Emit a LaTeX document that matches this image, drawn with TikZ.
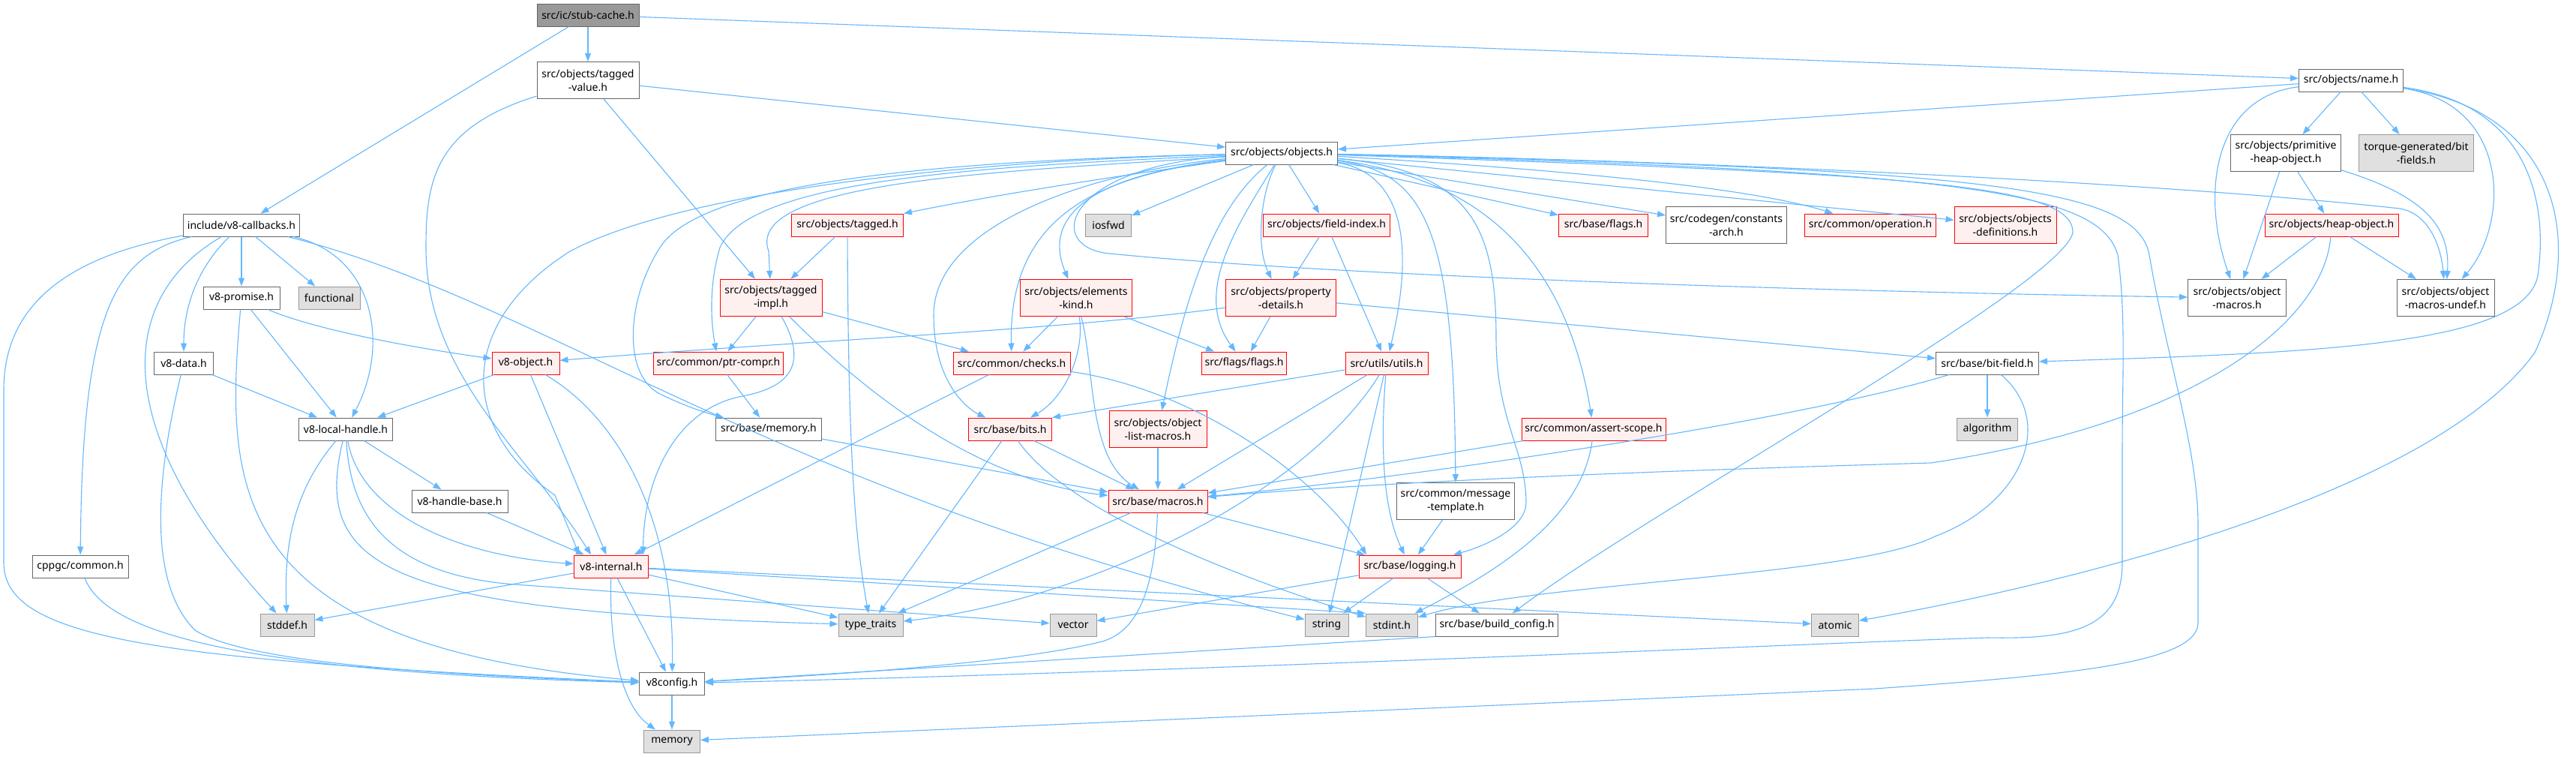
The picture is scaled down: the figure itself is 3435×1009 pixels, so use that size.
\documentclass[tikz,border=0pt]{standalone}
\usepackage{fontspec}
\setmainfont{Noto Sans}
\usetikzlibrary{arrows.meta}
\definecolor{edgeblue}{HTML}{63B8FF}
\definecolor{boxline}{HTML}{666666}
\definecolor{redfill}{HTML}{FFF0F0}
\definecolor{sysfill}{HTML}{E0E0E0}
\definecolor{sysline}{HTML}{999999}
\definecolor{rootfill}{HTML}{999999}

\begin{document}
\begin{tikzpicture}[x=1pt,y=-1pt,font=\fontsize{14}{18}\selectfont,
  box/.style={draw=boxline,fill=white,line width=1pt,minimum height=30pt,inner xsep=2pt,inner ysep=2pt,align=center},
  tall/.style={minimum height=49pt},
  redbox/.style={box,draw=red,fill=redfill},
  sysbox/.style={box,draw=sysline,fill=sysfill},
  rootbox/.style={box,fill=rootfill},
  dep/.style={draw=edgeblue,line width=1.1pt,-{Triangle[length=11pt,width=8pt]}}]
  \useasboundingbox (0,0) rectangle (3435,1009);
  \fill[white] (0,0) rectangle (3435,1009);
  \node[rootbox,minimum width=136pt] (stub) at (784,20) {src/ic/stub-cache.h};
  \node[box,tall,minimum width=136pt] (tval) at (784,107) {src/objects/tagged\\-value.h};
  \node[box,minimum width=155pt] (cb) at (322,300) {include/v8-callbacks.h};
  \node[redbox,minimum width=149pt] (tagged) at (1130,300) {src/objects/tagged.h};
  \node[sysbox,minimum width=61pt] (iosfwd) at (1478,300) {iosfwd};
  \node[box,minimum width=149pt] (objs) at (1709,204) {src/objects/objects.h};
  \node[redbox,minimum width=169pt] (fidx) at (1769,300) {src/objects/field-index.h};
  \node[redbox,minimum width=119pt] (bflags) at (2138,300) {src/base/flags.h};
  \node[box,tall,minimum width=161pt] (carch) at (2302,300) {src/codegen/constants\\-arch.h};
  \node[redbox,minimum width=175pt] (oper) at (2494,300) {src/common/operation.h};
  \node[redbox,tall,minimum width=136pt] (odefs) at (2674,300) {src/objects/objects\\-definitions.h};
  \node[box,minimum width=139pt] (name) at (3135,107) {src/objects/name.h};
  \node[box,tall,minimum width=147pt] (prim) at (3048,204) {src/objects/primitive\\-heap-object.h};
  \node[sysbox,tall,minimum width=153pt] (torque) at (3222,204) {torque-generated/bit\\-fields.h};
  \node[redbox,minimum width=178pt] (heap) at (3109,300) {src/objects/heap-object.h};
  \node[box,minimum width=102pt] (promise) at (322,397) {v8-promise.h};
  \node[sysbox,minimum width=82pt] (functional) at (439,397) {functional};
  \node[box,minimum width=79pt] (v8data) at (245,484) {v8-data.h};
  \node[redbox,minimum width=90pt] (v8obj) at (701,484) {v8-object.h};
  \node[box,minimum width=125pt] (local) at (461,572) {v8-local-handle.h};
  \node[box,minimum width=128pt] (hbase) at (613,668) {v8-handle-base.h};
  \node[redbox,tall,minimum width=136pt] (timpl) at (1028,397) {src/objects/tagged\\-impl.h};
  \node[redbox,tall,minimum width=149pt] (ekind) at (1435,397) {src/objects/elements\\-kind.h};
  \node[redbox,tall,minimum width=147pt] (pdet) at (1708,397) {src/objects/property\\-details.h};
  \node[redbox,minimum width=173pt] (ptrc) at (958,484) {src/common/ptr-compr.h};
  \node[redbox,minimum width=156pt] (checks) at (1349,484) {src/common/checks.h};
  \node[redbox,minimum width=113pt] (fflags) at (1659,484) {src/flags/flags.h};
  \node[box,minimum width=141pt] (bmem) at (1025,572) {src/base/memory.h};
  \node[redbox,minimum width=111pt] (bits) at (1347,572) {src/base/bits.h};
  \node[redbox,tall,minimum width=130pt] (olist) at (1544,572) {src/objects/object\\-list-macros.h};
  \node[redbox,minimum width=132pt] (macros) at (1544,668) {src/base/macros.h};
  \node[redbox,minimum width=110pt] (utils) at (1849,484) {src/utils/utils.h};
  \node[redbox,minimum width=192pt] (assert) at (2125,572) {src/common/assert-scope.h};
  \node[box,tall,minimum width=157pt] (msgt) at (1941,668) {src/common/message\\-template.h};
  \node[box,tall,minimum width=131pt] (omac) at (2983,397) {src/objects/object\\-macros.h};
  \node[box,tall,minimum width=130pt] (omacu) at (3261,397) {src/objects/object\\-macros-undef.h};
  \node[box,minimum width=137pt] (bfield) at (2650,484) {src/base/bit-field.h};
  \node[sysbox,minimum width=81pt] (algorithm) at (2650,572) {algorithm};
  \node[box,minimum width=128pt] (cppgc) at (107,755) {cppgc/common.h};
  \node[sysbox,minimum width=72pt] (stddef) at (383,833) {stddef.h};
  \node[redbox,minimum width=99pt] (v8int) at (815,755) {v8-internal.h};
  \node[box,minimum width=87pt] (v8config) at (896,911) {v8config.h};
  \node[sysbox,minimum width=75pt] (memory) at (896,988) {memory};
  \node[sysbox,minimum width=86pt] (ttraits) at (1161,833) {type\_traits};
  \node[sysbox,minimum width=62pt] (vector) at (1431,833) {vector};
  \node[redbox,minimum width=136pt] (logging) at (1880,755) {src/base/logging.h};
  \node[sysbox,minimum width=58pt] (string) at (1769,833) {string};
  \node[sysbox,minimum width=69pt] (stdint) at (1856,833) {stdint.h};
  \node[box,minimum width=163pt] (bconf) at (1996,833) {src/base/build\_config.h};
  \node[sysbox,minimum width=63pt] (atomic) at (2447,833) {atomic};
  \draw[dep] (stub) -- (cb);
  \draw[dep] (stub) -- (tval);
  \draw[dep] (stub) -- (name);
  \draw[dep] (tval) -- (objs);
  \draw[dep] (tval) -- (timpl);
  \draw[dep] (tval) .. controls (580,170) and (568,240) .. (568,330) .. controls (568,500) and (700,600) .. (v8int.150);
  \draw[dep] (name) -- (objs);
  \draw[dep] (name) -- (prim);
  \draw[dep] (name) -- (torque);
  \draw[dep] (name) .. controls (2950,130) and (2935,260) .. (omac);
  \draw[dep] (name) .. controls (3350,140) and (3345,300) .. (omacu);
  \draw[dep] (name) .. controls (3380,140) and (3395,280) .. (3385,360) .. controls (3380,460) and (3100,470) .. (bfield);
  \draw[dep] (name) .. controls (3420,150) and (3445,330) .. (3380,470) .. controls (3250,650) and (2800,770) .. (atomic);
  \draw[dep] (prim) -- (heap);
  \draw[dep] (prim) -- (omac);
  \draw[dep] (prim) .. controls (3230,260) and (3268,300) .. (omacu);
  \draw[dep] (heap) -- (omac);
  \draw[dep] (heap) -- (omacu);
  \draw[dep] (heap) .. controls (3100,420) and (2950,560) .. (2575,617) .. controls (2300,625) and (1900,638) .. (macros);
  \draw[dep] (cb) .. controls (100,340) and (5,400) .. (5,520) -- (5,750) .. controls (5,850) and (200,880) .. (v8config);
  \draw[dep] (cb) .. controls (150,340) and (110,420) .. (cppgc);
  \draw[dep] (cb) .. controls (270,350) and (245,400) .. (v8data);
  \draw[dep] (cb) .. controls (150,400) and (150,580) .. (stddef);
  \draw[dep] (cb) -- (promise);
  \draw[dep] (cb) -- (functional);
  \draw[dep] (cb) .. controls (720,400) and (1000,640) .. (string);
  \draw[dep] (cb) .. controls (500,340) and (520,460) .. (local);
  \draw[dep] (promise) -- (local);
  \draw[dep] (promise) .. controls (420,440) and (560,465) .. (v8obj);
  \draw[dep] (promise) .. controls (300,650) and (300,860) .. (v8config);
  \draw[dep] (v8data) -- (local);
  \draw[dep] (v8data) .. controls (205,650) and (200,780) .. (260,840) .. controls (330,885) and (600,900) .. (v8config);
  \draw[dep] (v8obj) -- (local);
  \draw[dep] (v8obj) -- (v8int);
  \draw[dep] (v8obj) .. controls (830,560) and (900,700) .. (v8config);
  \draw[dep] (local) -- (hbase);
  \draw[dep] (local) .. controls (395,650) and (378,720) .. (stddef);
  \draw[dep] (local) .. controls (415,760) and (520,815) .. (ttraits);
  \draw[dep] (local) .. controls (468,700) and (530,770) .. (700,780) -- (vector);
  \draw[dep] (local) .. controls (480,680) and (600,740) .. (v8int);
  \draw[dep] (hbase) -- (v8int);
  \draw[dep] (v8int) -- (stddef);
  \draw[dep] (v8int) -- (ttraits);
  \draw[dep] (v8int) -- (v8config);
  \draw[dep] (v8int) .. controls (812,880) and (835,945) .. (memory);
  \draw[dep] (v8int) -- (stdint.north west);
  \draw[dep] (v8int) -- (atomic);
  \draw[dep] (tagged) -- (timpl);
  \draw[dep] (tagged) .. controls (1131,600) and (1140,720) .. (ttraits);
  \draw[dep] (timpl) -- (ptrc);
  \draw[dep] (timpl) -- (checks);
  \draw[dep] (timpl) .. controls (1150,520) and (1300,640) .. (macros);
  \draw[dep] (timpl) .. controls (1075,480) and (1060,515) .. (990,528) .. controls (900,545) and (858,640) .. (v8int.20);
  \draw[dep] (objs) .. controls (1450,240) and (1300,265) .. (tagged);
  \draw[dep] (objs) -- (iosfwd);
  \draw[dep] (objs) -- (fidx);
  \draw[dep] (objs) -- (bflags);
  \draw[dep] (objs) -- (carch);
  \draw[dep] (objs) .. controls (2150,230) and (2350,255) .. (oper);
  \draw[dep] (objs) -- (odefs);
  \draw[dep] (objs) .. controls (1420,222) and (1390,330) .. (1480,338) .. controls (1800,370) and (2500,390) .. (omac);
  \draw[dep] (objs) .. controls (2300,215) and (2900,245) .. (3200,278) .. controls (3240,285) and (3255,330) .. (omacu);
  \draw[dep] (objs) .. controls (2650,225) and (2850,250) .. (2866,340) .. controls (2890,480) and (2931,600) .. (2931,700) -- (2931,830) .. controls (2931,885) and (2750,900) .. (2500,918) -- (memory);
  \draw[dep] (objs) .. controls (2620,228) and (2800,255) .. (2824,340) .. controls (2835,420) and (2830,500) .. (2830,600) -- (2830,750) .. controls (2830,840) and (2760,852) .. (2650,850) .. controls (2400,858) and (1600,895) .. (v8config);
  \draw[dep] (objs) .. controls (2550,232) and (2765,245) .. (2764,310) .. controls (2750,380) and (2200,680) .. (bconf);
  \draw[dep] (objs) .. controls (1250,215) and (900,260) .. (760,335) .. controls (610,430) and (610,570) .. (740,660) -- (v8int.160);
  \draw[dep] (objs) .. controls (1200,215) and (930,250) .. (880,330) .. controls (835,400) and (830,500) .. (880,525) .. controls (910,540) and (940,550) .. (bmem);
  \draw[dep] (objs) .. controls (1300,222) and (1000,240) .. (960,330) .. controls (945,380) and (948,430) .. (ptrc);
  \draw[dep] (objs) .. controls (1350,228) and (990,240) .. (1025,335) -- (timpl);
  \draw[dep] (objs) .. controls (1450,230) and (1245,300) .. (1245,420) .. controls (1245,510) and (1290,545) .. (bits);
  \draw[dep] (objs) .. controls (1460,235) and (1345,290) .. (checks);
  \draw[dep] (objs) .. controls (1450,235) and (1390,290) .. (ekind);
  \draw[dep] (objs) .. controls (1615,280) and (1580,400) .. (olist);
  \draw[dep] (objs) .. controls (1650,300) and (1590,390) .. (fflags);
  \draw[dep] (objs) .. controls (1680,260) and (1675,330) .. (pdet);
  \draw[dep] (objs) .. controls (1850,228) and (1895,290) .. (utils);
  \draw[dep] (objs) .. controls (1900,230) and (1939,300) .. (msgt);
  \draw[dep] (objs) .. controls (1960,228) and (1995,300) .. (1995,450) .. controls (1995,560) and (2035,600) .. (2035,670) .. controls (2035,700) and (1990,725) .. (logging.15);
  \draw[dep] (objs) .. controls (1990,240) and (2090,360) .. (assert);
  \draw[dep] (fidx) -- (pdet);
  \draw[dep] (fidx) -- (utils);
  \draw[dep] (ekind) -- (checks);
  \draw[dep] (ekind) .. controls (1447,470) and (1420,530) .. (bits);
  \draw[dep] (ekind) .. controls (1460,490) and (1450,610) .. (macros);
  \draw[dep] (ekind) -- (fflags);
  \draw[dep] (pdet) -- (fflags);
  \draw[dep] (pdet.190) .. controls (1420,440) and (1100,452) .. (v8obj);
  \draw[dep] (pdet) -- (bfield);
  \draw[dep] (ptrc) -- (bmem);
  \draw[dep] (checks) -- (v8int);
  \draw[dep] (checks) .. controls (1600,520) and (1760,640) .. (logging.165);
  \draw[dep] (bits) -- (macros);
  \draw[dep] (bits) -- (ttraits);
  \draw[dep] (bits) .. controls (1420,680) and (1650,770) .. (stdint);
  \draw[dep] (olist) -- (macros);
  \draw[dep] (bmem) -- (macros);
  \draw[dep] (utils) -- (bits.north east);
  \draw[dep] (utils) -- (macros);
  \draw[dep] (utils) .. controls (1740,660) and (1450,800) .. (ttraits);
  \draw[dep] (utils) -- (string);
  \draw[dep] (utils) .. controls (1840,600) and (1845,680) .. (logging);
  \draw[dep] (assert) -- (macros);
  \draw[dep] (assert) .. controls (2110,690) and (2000,760) .. (stdint);
  \draw[dep] (msgt) -- (logging);
  \draw[dep] (macros) -- (logging);
  \draw[dep] (macros) -- (ttraits);
  \draw[dep] (macros) .. controls (1540,780) and (1520,840) .. (1470,855) .. controls (1350,885) and (1100,900) .. (v8config);
  \draw[dep] (logging) -- (string);
  \draw[dep] (logging) -- (bconf);
  \draw[dep] (logging) -- (vector);
  \draw[dep] (bconf.south west) -- (v8config);
  \draw[dep] (v8config) -- (memory);
  \draw[dep] (cppgc) .. controls (140,840) and (300,895) .. (v8config);
  \draw[dep] (bfield) -- (algorithm);
  \draw[dep] (bfield) .. controls (2400,560) and (1900,635) .. (macros);
  \draw[dep] (bfield) .. controls (2740,560) and (2700,670) .. (2580,715) .. controls (2470,770) and (2050,775) .. (stdint);
\end{tikzpicture}
\end{document}
